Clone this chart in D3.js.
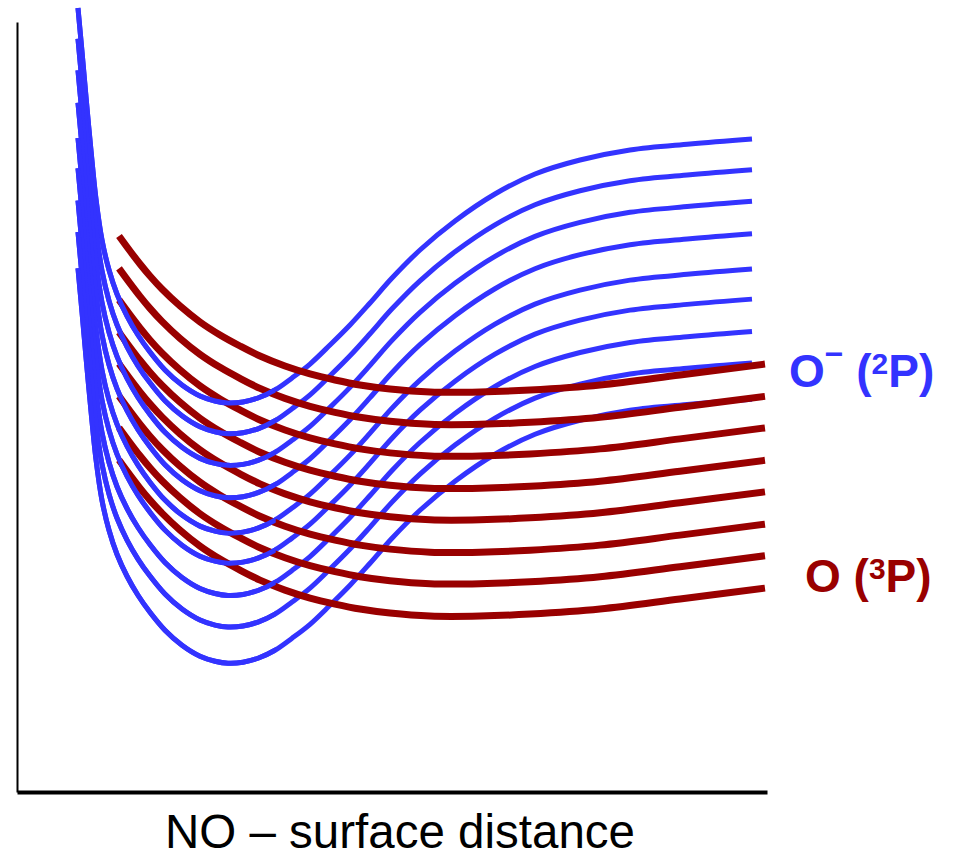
<!DOCTYPE html>
<html>
<head>
<meta charset="utf-8">
<script src="https://cdn.jsdelivr.net/npm/d3@7"></script>
<style>
  html, body { margin: 0; padding: 0; background: #fff; }
  svg { display: block; }
</style>
</head>
<body>
<svg id="chart" width="957" height="858"></svg>
<script>
// ---- Data (distance in arbitrary units, energy in arbitrary units) ----
// O- (2P) state: base potential curve (top curve of the ladder)
const blueX = [0.813, 0.867, 0.920, 0.987, 1.053, 1.133, 1.227, 1.333, 1.467, 1.613, 1.773, 1.973, 2.200, 2.440, 2.640, 2.813, 3.013, 3.213, 3.440, 3.667, 3.907, 4.173, 4.440, 4.707, 5.000, 5.373, 5.840, 6.373, 6.907, 7.507, 8.173, 8.973, 9.800];
const blueE = [10.182, 9.610, 9.026, 8.325, 7.701, 7.169, 6.779, 6.468, 6.182, 5.935, 5.714, 5.481, 5.286, 5.143, 5.078, 5.052, 5.065, 5.117, 5.221, 5.377, 5.558, 5.805, 6.065, 6.351, 6.675, 7.039, 7.416, 7.766, 8.026, 8.208, 8.338, 8.416, 8.481];
// vertical offsets of each O- (2P) curve (vibrational ladder)
const blueOffsets = [0, -0.40, -0.81, -1.23, -1.69, -2.08, -2.50, -2.91, -3.38];

// O (3P) state: base potential curve (top curve of the ladder)
const redX = [1.360, 1.507, 1.640, 1.773, 1.933, 2.173, 2.440, 2.707, 2.973, 3.240, 3.573, 3.907, 4.240, 4.573, 4.973, 5.507, 6.173, 6.840, 7.773, 8.840, 9.973];
const redE = [7.221, 7.026, 6.857, 6.701, 6.532, 6.312, 6.104, 5.935, 5.792, 5.662, 5.532, 5.429, 5.351, 5.286, 5.234, 5.195, 5.195, 5.221, 5.286, 5.416, 5.558];
const redOffsets = [0, -0.42, -0.83, -1.25, -1.66, -2.08, -2.49, -2.91];

const xLabel = "NO \u2013 surface distance";

// ---- Drawing ----
const svg = d3.select("#chart");
const x = d3.scaleLinear().domain([0, 10]).range([17, 767]);
const y = d3.scaleLinear().domain([0, 10]).range([792, 22]);

const BLUE = "#3333ff";
const RED = "#990000";

function series(xs, es, off) {
  return xs.map((v, i) => ({ x: v, e: es[i] + off }));
}
const line = d3.line().x(d => x(d.x)).y(d => y(d.e)).curve(d3.curveCatmullRom.alpha(0.5));

const blueData = blueOffsets.map(o => series(blueX, blueE, o));
const redData = redOffsets.map(o => series(redX, redE, o));

// clip for blue-over-red crossings on the inner side
svg.append("defs").append("clipPath").attr("id", "leftClip")
  .append("rect").attr("x", 0).attr("y", 0)
  .attr("width", x(3.45)).attr("height", 858);

const gBlue = svg.append("g");
gBlue.selectAll("path").data(blueData).join("path")
  .attr("d", line).attr("fill", "none")
  .attr("stroke", BLUE).attr("stroke-width", 5);

const gRed = svg.append("g");
gRed.selectAll("path").data(redData).join("path")
  .attr("d", line).attr("fill", "none")
  .attr("stroke", RED).attr("stroke-width", 7);

const gBlue2 = svg.append("g").attr("clip-path", "url(#leftClip)");
gBlue2.selectAll("path").data(blueData).join("path")
  .attr("d", line).attr("fill", "none")
  .attr("stroke", BLUE).attr("stroke-width", 5);

// axes (no ticks)
const gx = svg.append("g").attr("transform", `translate(0,${y(0)})`)
  .call(d3.axisBottom(x).ticks(0).tickSizeOuter(0));
gx.select(".domain").attr("stroke", "#000").attr("stroke-width", 4);
const gy = svg.append("g").attr("transform", `translate(${x(0)},0)`)
  .call(d3.axisLeft(y).ticks(0).tickSizeOuter(0));
gy.select(".domain").attr("stroke", "#000").attr("stroke-width", 2);

// x label
svg.append("text")
  .attr("x", 400).attr("y", 848)
  .attr("text-anchor", "middle")
  .attr("font-family", "'Liberation Sans', Arial, sans-serif")
  .attr("font-size", 47.5)
  .attr("fill", "#000")
  .text(xLabel);

// state labels
const lab1 = svg.append("text")
  .attr("x", 789).attr("y", 387)
  .attr("font-family", "'Liberation Sans', Arial, sans-serif")
  .attr("font-weight", "bold").attr("font-size", 46)
  .attr("fill", BLUE);
lab1.append("tspan").text("O");
lab1.append("tspan").attr("dy", -22).attr("font-size", 32).text("\u2212");
lab1.append("tspan").attr("dy", 22).text(" (");
lab1.append("tspan").attr("dy", -13).attr("font-size", 30).text("2");
lab1.append("tspan").attr("dy", 13).text("P)");

const lab2 = svg.append("text")
  .attr("x", 805).attr("y", 592)
  .attr("font-family", "'Liberation Sans', Arial, sans-serif")
  .attr("font-weight", "bold").attr("font-size", 46)
  .attr("fill", RED);
lab2.append("tspan").text("O (");
lab2.append("tspan").attr("dy", -13).attr("font-size", 30).text("3");
lab2.append("tspan").attr("dy", 13).text("P)");
</script>
</body>
</html>
